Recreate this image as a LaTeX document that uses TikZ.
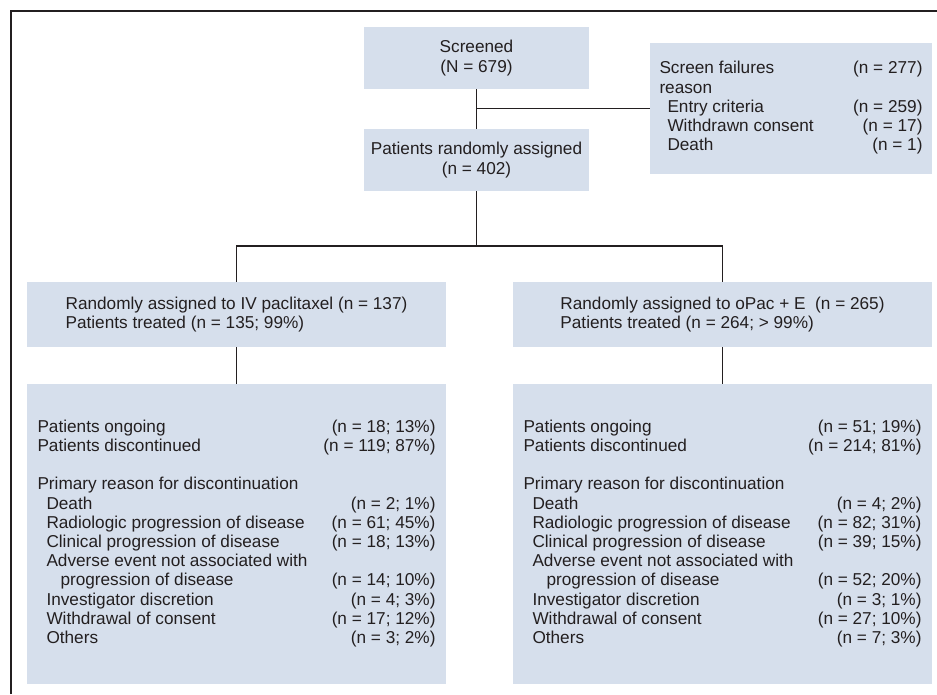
\documentclass[tikz,border=0pt]{standalone}
\usepackage{fontspec}
\setmainfont{Liberation Sans}
\usepackage{tikz}
\usetikzlibrary{positioning,calc}

\newlength\pxu
\setlength\pxu{0.75pt}
\newcommand\boxfont{\fontsize{12.9}{14.4}\selectfont}
\newcommand\ind{\hspace*{9\pxu}}
\newcommand\indd{\hspace*{23\pxu}}
\definecolor{boxfill}{RGB}{214,223,236}
\definecolor{inkcol}{RGB}{35,31,32}

\tikzset{
  flowbox/.style={fill=boxfill, inner sep=0pt, font=\boxfont, text=inkcol},
  link/.style={draw=inkcol, line width=1.3pt}
}

\begin{document}
\begin{tikzpicture}[x=\pxu, y=-\pxu]
\useasboundingbox (0,0) rectangle (937,694);

% Frame
\draw[inkcol, line width=1pt] (11,694) -- (11,11) -- (937,11);

% Top of the flow
\node[flowbox, align=center, minimum width=225\pxu, minimum height=62\pxu] (screened) at (476.5,58) {Screened\\(N = 679)};
\node[flowbox, align=center, minimum width=225\pxu, minimum height=62\pxu] (randomized) at (476.5,160) {Patients randomly assigned\\(n = 402)};
\node[flowbox, minimum width=282\pxu, minimum height=131\pxu] (failures) at (791,108.5) {%
\begin{tabular*}{263\pxu}{@{}l@{\extracolsep{\fill}}r@{}}
Screen failures & (n = 277)\\
reason & \\
\hspace*{8\pxu}Entry criteria & (n = 259)\\
\hspace*{8\pxu}Withdrawn consent & (n = 17)\\
\hspace*{8\pxu}Death & (n = 1)
\end{tabular*}};

% Arms
\node[flowbox, align=left, minimum width=419\pxu, minimum height=65\pxu] (ivarm) at (236.5,314.5) {Randomly assigned to IV paclitaxel (n = 137)\\Patients treated (n = 135; 99\%)};
\node[flowbox, align=left, minimum width=419\pxu, minimum height=65\pxu] (oparm) at (722.5,314.5) {Randomly assigned to oPac + E\ \ (n = 265)\\Patients treated (n = 264; > 99\%)};

% Outcomes
\node[flowbox, minimum width=419\pxu, minimum height=300\pxu] (ivout) at (236.5,534) {%
\begin{tabular*}{398\pxu}{@{}l@{\extracolsep{\fill}}r@{}}
Patients ongoing & (n = 18; 13\%)\\
Patients discontinued & (n = 119; 87\%)\\
 & \\
Primary reason for discontinuation & \\
\ind Death & (n = 2; 1\%)\\
\ind Radiologic progression of disease & (n = 61; 45\%)\\
\ind Clinical progression of disease & (n = 18; 13\%)\\
\ind Adverse event not associated with & \\
\indd progression of disease & (n = 14; 10\%)\\
\ind Investigator discretion & (n = 4; 3\%)\\
\ind Withdrawal of consent & (n = 17; 12\%)\\
\ind Others & (n = 3; 2\%)
\end{tabular*}};
\node[flowbox, minimum width=419\pxu, minimum height=300\pxu] (opout) at (722.5,534) {%
\begin{tabular*}{398\pxu}{@{}l@{\extracolsep{\fill}}r@{}}
Patients ongoing & (n = 51; 19\%)\\
Patients discontinued & (n = 214; 81\%)\\
 & \\
Primary reason for discontinuation & \\
\ind Death & (n = 4; 2\%)\\
\ind Radiologic progression of disease & (n = 82; 31\%)\\
\ind Clinical progression of disease & (n = 39; 15\%)\\
\ind Adverse event not associated with & \\
\indd progression of disease & (n = 52; 20\%)\\
\ind Investigator discretion & (n = 3; 1\%)\\
\ind Withdrawal of consent & (n = 27; 10\%)\\
\ind Others & (n = 7; 3\%)
\end{tabular*}};

% Connectors
\coordinate (split) at (476.5,246);
\draw[link] (screened.south) -- (randomized.north);
\draw[link] (screened.south |- failures.west) -- (failures.west);
\draw[link] (randomized.south) -- (split);
\draw[link] (ivarm.north) -- (ivarm.north |- split) -- (oparm.north |- split) -- (oparm.north);
\draw[link] (ivarm.south) -- (ivout.north);
\draw[link] (oparm.south) -- (opout.north);
\end{tikzpicture}
\end{document}
